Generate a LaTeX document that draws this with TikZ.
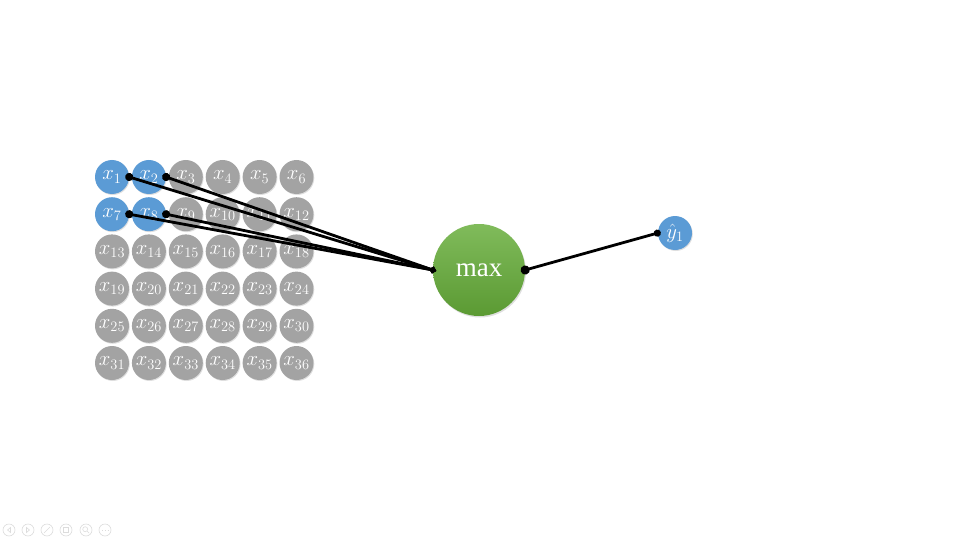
\documentclass[tikz,border=0pt]{standalone}
\usepackage{fontspec}
\setmainfont{Liberation Serif}
\usetikzlibrary{arrows.meta,shadows}
\definecolor{nblue}{HTML}{5B9BD5}
\definecolor{ngray}{HTML}{A3A3A3}
\definecolor{gtop}{HTML}{80BB5B}
\definecolor{gbot}{HTML}{5B9A33}
\definecolor{tb}{HTML}{DCDCDC}
\begin{document}
\begin{tikzpicture}[x=1pt,y=-1pt,
  cell/.style={circle,minimum size=34pt,inner sep=0pt,text=white,
    font=\fontsize{20}{22}\selectfont,
    drop shadow={opacity=0.25,shadow xshift=0.8pt,shadow yshift=-1pt}},
  maxnode/.style={circle,minimum size=92pt,inner sep=0pt,text=white,
    top color=gtop,bottom color=gbot,draw=none,
    font=\fontsize{27}{30}\selectfont,
    drop shadow={opacity=0.25,shadow xshift=1pt,shadow yshift=-1.5pt}},
  conn/.style={line width=2.8pt,black,{Circle[length=8pt]}-{Circle[length=6pt]},
    shorten <=-4pt,shorten >=-3pt},
  tbicon/.style={circle,draw=tb,line width=0.6pt,minimum size=12pt,inner sep=0pt}]
\useasboundingbox (0,0) rectangle (960,540);
\foreach \r in {0,...,5}{\foreach \c in {0,...,5}{
  \pgfmathtruncatemacro\n{6*\r+\c+1}
  \pgfmathtruncatemacro\b{and(\r<2,\c<2)}
  \ifnum\b=1 \def\col{nblue}\else\def\col{ngray}\fi
  \node[cell,fill=\col] (x\n) at ({112+36.9*\c},{177+37.2*\r}) {\raisebox{-2pt}{$x_{\n}$}};
}}
\node[maxnode] (max) at (479,270) {max};
\node[cell,fill=nblue] (y1) at (675,233) {$\hat{y}_1$};
\draw[conn] (x1.east) -- (max.west);
\draw[conn] (x2.east) -- (max.west);
\draw[conn] (x7.east) -- (max.west);
\draw[conn] (x8.east) -- (max.west);
\draw[conn,{Circle[length=9pt]}-{Circle[length=7pt]},shorten <=-4.5pt] (max.east) -- (y1.west);
% presentation toolbar
\foreach \i/\xx in {1/9,2/28,3/47,4/66,5/86,6/105}{
  \node[tbicon] (tb\i) at (\xx,530) {};
}
\draw[tb,line width=0.6pt] (tb1.center) ++(1.5,-2.5) -- ++(-3,2.5) -- ++(3,2.5) -- cycle;
\draw[tb,line width=0.6pt] (tb2.center) ++(-1.5,-2.5) -- ++(3,2.5) -- ++(-3,2.5) -- cycle;
\draw[tb,line width=0.6pt] (tb3.center) ++(-3,3) -- ++(6,-6);
\draw[tb,line width=0.6pt] (tb4.center) ++(-3,-3) rectangle ++(5,5);
\draw[tb,line width=0.6pt] (tb5.center) ++(-0.8,-0.8) circle (2.5pt) ++(2,2) -- ++(2,2);
\draw[tb,line width=0.8pt,dotted] (tb6.center) ++(-3,0) -- ++(6,0);
\end{tikzpicture}
\end{document}
